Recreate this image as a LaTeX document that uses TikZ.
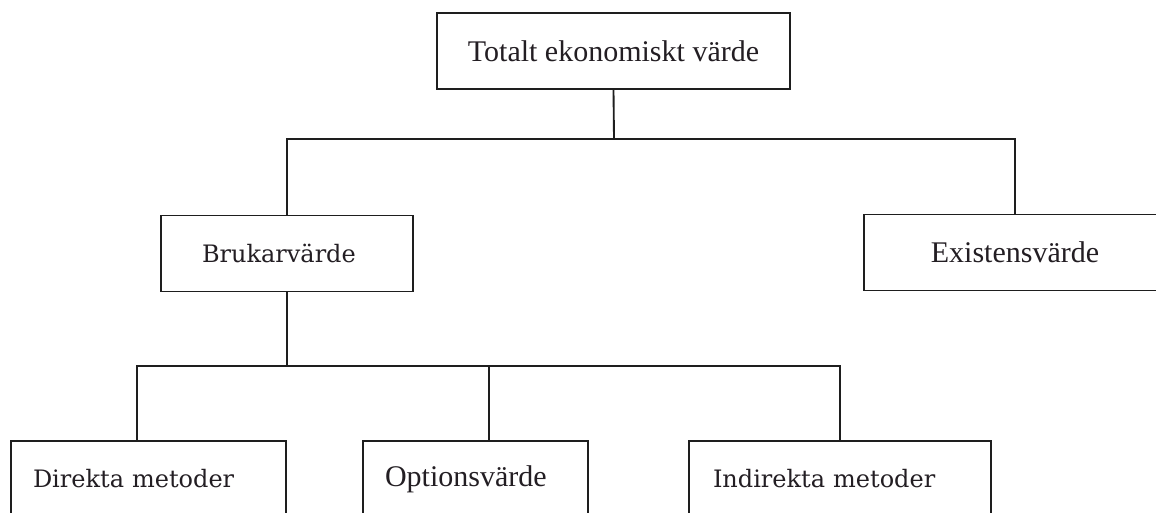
\documentclass[tikz,border=0pt]{standalone}
\usepackage{fontspec}
\setmainfont{Liberation Serif}
\newfontfamily\slabfont{DejaVu Serif}
\usetikzlibrary{positioning,calc}
\definecolor{linecolor}{RGB}{30,30,30}
\definecolor{textcolor}{RGB}{35,30,35}

\begin{document}
\begin{tikzpicture}[
  x=0.75pt, y=-0.75pt,
  box/.style={
    draw=linecolor,
    line width=1.4pt,
    minimum height=57pt,
    text=textcolor,
    font=\fontsize{22.5}{25}\selectfont
  },
  slabbox/.style={
    box,
    align=left,
    font=\slabfont\fontsize{18}{21}\selectfont
  },
  link/.style={draw=linecolor, line width=1.4pt}
]

\useasboundingbox (0,0) rectangle (1156,513);
\clip (0,0) rectangle (1156,513);

% -------- Top level --------
\node[box, minimum width=264.75pt] (total) at (613.5,51)
{Totalt ekonomiskt värde};

% -------- Second level --------
\node[slabbox, inner xsep=30.75pt, text width=127.5pt] (bruk) at (287,253.5)
{Brukarvärde};

\node[box, minimum width=226.5pt] (exist) at (1015,252.5)
{Existensvärde};

% -------- Third level --------
\node[slabbox, inner xsep=16.5pt, text width=173.25pt] (direkt) at (148.5,479)
{Direkta metoder};

\node[box, align=left, inner xsep=16.5pt, text width=135.75pt] (option) at (475.5,479)
{Optionsvärde};

\node[slabbox, inner xsep=18pt, text width=190.5pt] (indir) at (840,479)
{Indirekta metoder};

% -------- Connectors --------
\coordinate (j1) at (614,139);
\coordinate (j2) at (287,366);

\draw[link] (total.south) -- (j1);
\draw[link] (bruk.north) |- (j1) -| (exist.north);

\draw[link] (bruk.south) -- (j2);
\draw[link] ([xshift=-8.6pt]direkt.north) |- (j2) -| (indir.north);
\draw[link] ([xshift=10.1pt]option.north) -- ([xshift=10.1pt]option.north |- j2);

\end{tikzpicture}
\end{document}
